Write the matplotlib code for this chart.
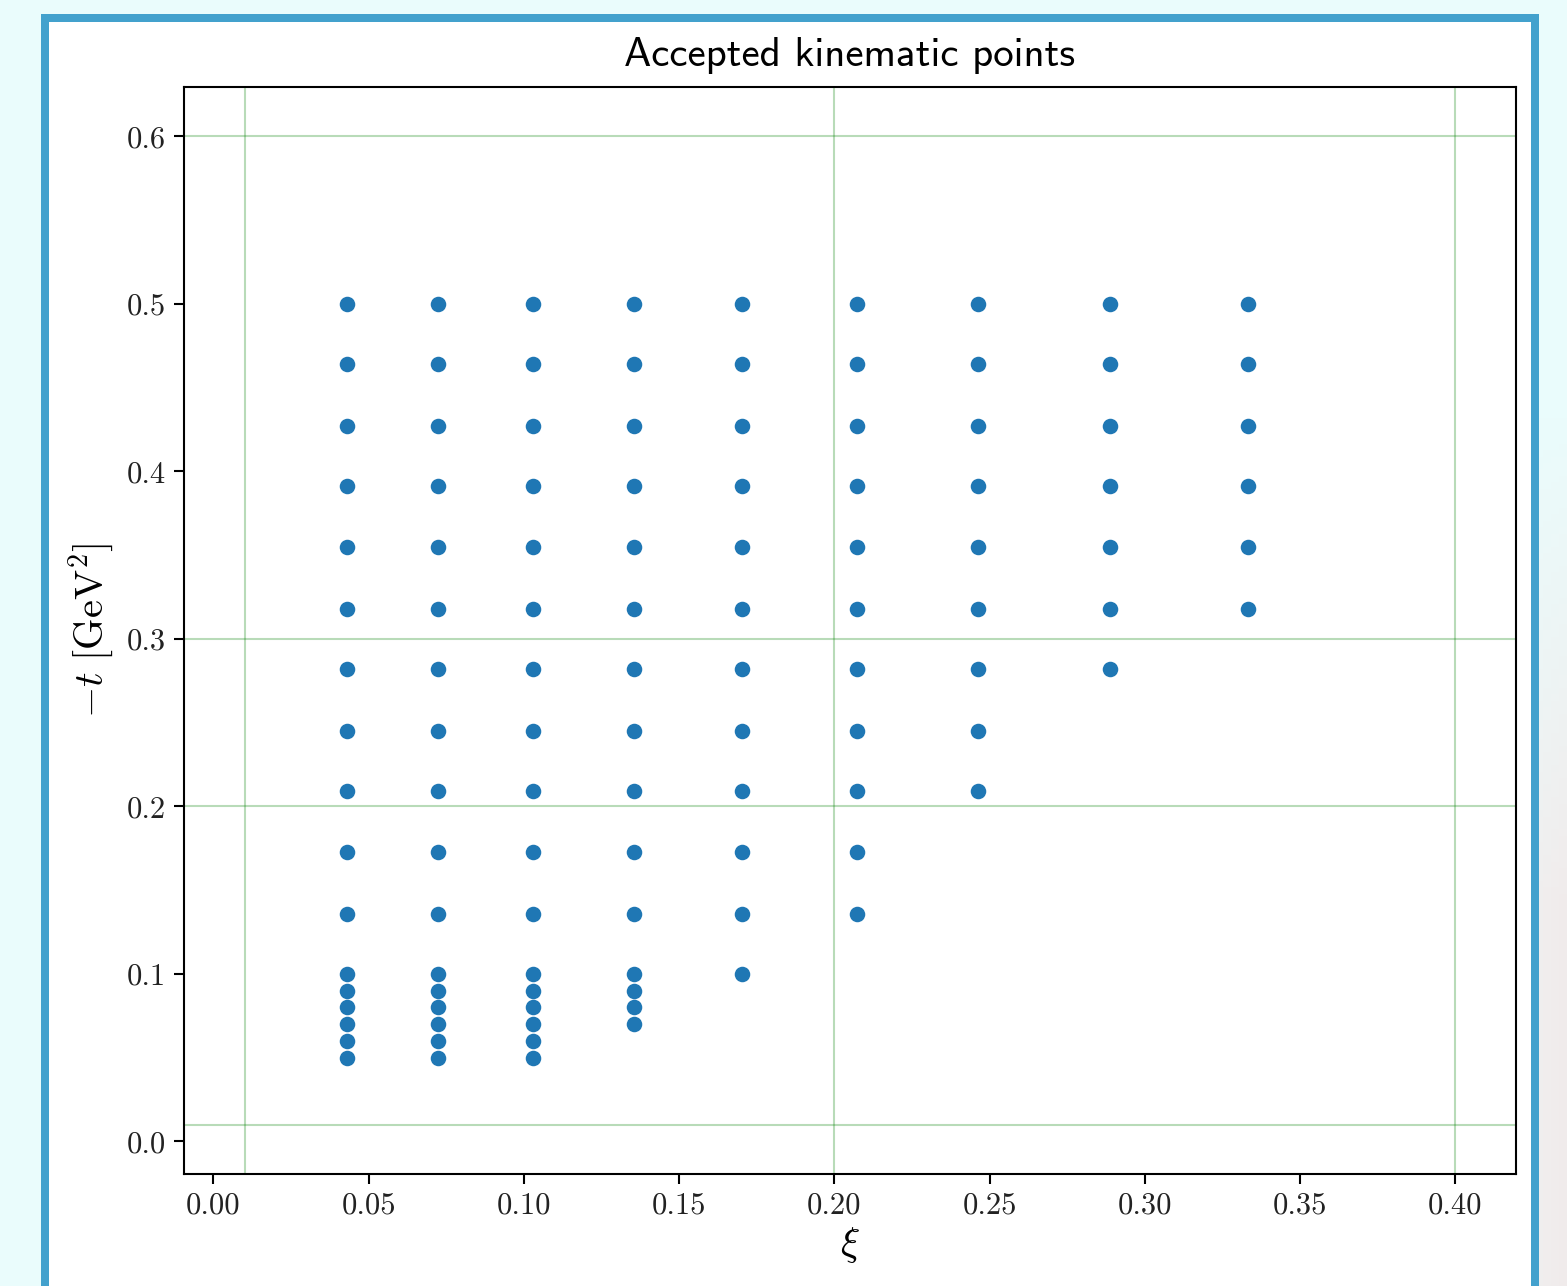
import numpy as np
import matplotlib
matplotlib.use("Agg")
import matplotlib.pyplot as plt
from matplotlib.patches import Rectangle

plt.rcParams['font.family'] = ['cmr10', 'DejaVu Serif']
plt.rcParams['mathtext.fontset'] = 'cm'
plt.rcParams['axes.unicode_minus'] = False
plt.rcParams['axes.formatter.use_mathtext'] = True

# xi columns of the grid
xi_cols = [0.0431, 0.0724, 0.1030, 0.1355, 0.1702, 0.2072, 0.2462, 0.2887, 0.3331]

# -t values (GeV^2)
t_low = [0.05, 0.06, 0.07, 0.08, 0.09, 0.10]
t_high = [0.136, 0.173, 0.209, 0.245, 0.282, 0.318, 0.355, 0.391, 0.427, 0.464, 0.500]

# accepted -t values per xi column
t_accepted = [
    t_low + t_high,
    t_low + t_high,
    t_low + t_high,
    [0.07, 0.08, 0.09, 0.10] + t_high,
    [0.10] + t_high,
    t_high,
    t_high[2:],
    t_high[4:],
    t_high[5:],
]

# kinematic region boundaries
xi_lines = [0.01, 0.2, 0.4]
t_lines = [0.01, 0.2, 0.3, 0.6]

W, H, DPI = 1567, 1286, 100
fig = plt.figure(figsize=(W / DPI, H / DPI), dpi=DPI)

# page background: pale cyan fading to a faint pink on the lower right
bg = fig.add_axes([0, 0, 1, 1], zorder=-10)
bg.axis('off')
yy, xx = np.mgrid[0:1:200j, 0:1:200j]
w = np.clip((xx - 0.9) * 10, 0, 1) * np.clip((yy - 0.3) * 2.5, 0, 1)
cyan = np.array([0.918, 0.992, 0.992])
pink = np.array([0.945, 0.925, 0.925])
img = cyan[None, None, :] * (1 - w[..., None]) + pink[None, None, :] * w[..., None]
bg.imshow(img, extent=[0, 1, 0, 1], aspect='auto', origin='upper')
bg.set_xlim(0, 1)
bg.set_ylim(0, 1)

# white card with a blue frame
card = Rectangle((45 / W, -0.05), (1535 - 45) / W, 1 - 18 / H + 0.05,
                 transform=fig.transFigure, facecolor='white',
                 edgecolor='#43a1cd', linewidth=8 * 72 / DPI, zorder=-5)
fig.patches.append(card)

ax = fig.add_axes([184 / W, 1 - 1174 / H, (1516 - 184) / W, (1174 - 87) / H])

for x, ts in zip(xi_cols, t_accepted):
    ax.scatter([x] * len(ts), ts, s=125, color='#1f77b4', linewidths=0, zorder=3)

for x in xi_lines:
    ax.axvline(x, color='green', alpha=0.28, linewidth=1.5)
for t in t_lines:
    ax.axhline(t, color='green', alpha=0.28, linewidth=1.5)

ax.set_xlim(-0.0095, 0.4195)
ax.set_ylim(-0.0195, 0.6295)
ax.set_xticks(np.arange(0, 0.41, 0.05))
ax.set_yticks(np.arange(0, 0.61, 0.1))
ax.xaxis.set_major_formatter(matplotlib.ticker.FormatStrFormatter('%.2f'))
ax.yaxis.set_major_formatter(matplotlib.ticker.FormatStrFormatter('%.1f'))

for sp in ax.spines.values():
    sp.set_linewidth(1.5)
ax.tick_params(length=7, width=1.5, labelsize=22, pad=6, colors='#222222')
ax.tick_params(color='black')

ax.set_title('Accepted kinematic points', fontfamily='cmss10', fontsize=29.5, pad=15)
ax.set_xlabel(r'$\xi$', fontsize=29, labelpad=4)
ax.set_ylabel(r'$-t\ [\mathrm{GeV}^2]$', fontsize=29, labelpad=8)

fig.savefig('out.png', dpi=DPI)
